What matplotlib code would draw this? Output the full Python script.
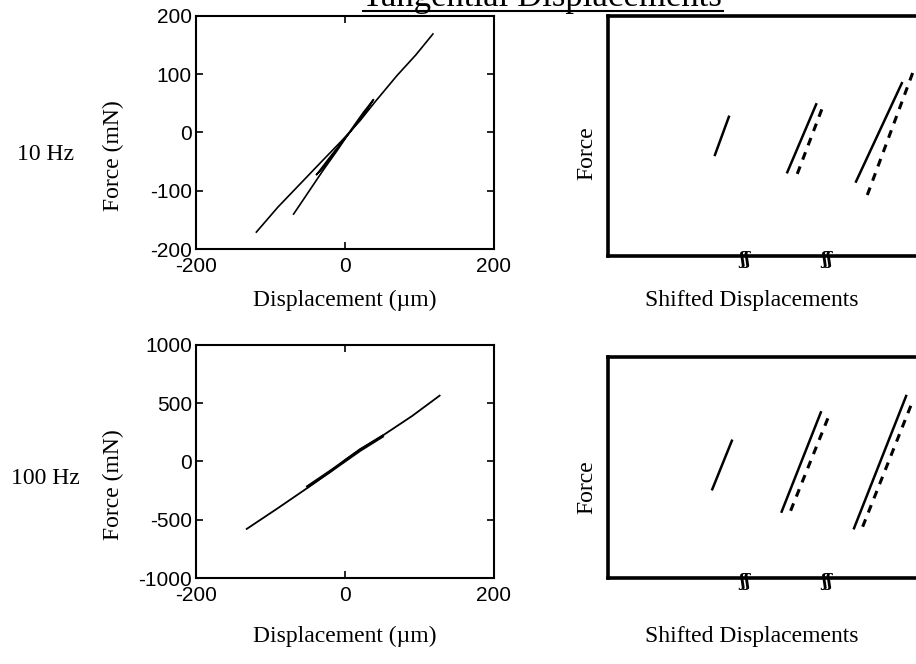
import matplotlib.pyplot as plt

plt.rcParams['axes.unicode_minus'] = False

# 10 Hz, force vs displacement (um, mN)
big10_x = [-119, -90, -60, -30, -5, 20, 40, 70, 95, 118]
big10_y = [-171, -128, -88, -48, -15, 20, 52, 98, 133, 169]
mid10_x = [-69, -50, -30, -10, 10, 25, 38]
mid10_y = [-140, -104, -66, -30, 8, 35, 56]
loop10_x = [-38, -20, 0, 20, 38, 25, 5, -15, -30, -38]
loop10_y = [-72, -42, -10, 22, 56, 30, -2, -36, -62, -72]

# 100 Hz
big100_x = [-132, -90, -50, -20, 0, 20, 50, 90, 127]
big100_y = [-579, -400, -225, -90, 13, 105, 220, 390, 565]
small100_x = [-50, -20, 0, 20, 50]
small100_y = [-215, -85, 5, 95, 215]

# shifted displacement panels (arbitrary units, 0-100)
top_solid = [([32.2, 36.4], [42.1, 58.0]),
             ([54.0, 62.7], [34.9, 63.2]),
             ([74.7, 88.5], [31.0, 72.0])]
top_dash = [([57.0, 64.5], [34.2, 61.5]),
            ([78.1, 91.8], [25.4, 76.4])]
bot_solid = [([31.4, 37.3], [40.2, 62.1]),
             ([52.3, 64.1], [30.1, 74.9]),
             ([74.1, 89.8], [22.6, 82.3])]
bot_dash = [([55.0, 66.4], [30.5, 72.9]),
            ([76.7, 91.5], [23.3, 79.0])]
breaks = [41.3, 66.0]

serif = 'Liberation Serif'
sans = 'Liberation Sans'
lab_fs = 17

fig = plt.figure(figsize=(9.16, 6.64), dpi=100)


def left_panel(rect, ylim, yticks):
    ax = fig.add_axes(rect)
    ax.set_xlim(-200, 200)
    ax.set_ylim(*ylim)
    ax.set_xticks([-200, 0, 200])
    ax.set_yticks(yticks)
    ax.tick_params(direction='in', length=5, width=1.2, top=True, right=True,
                   labelsize=15)
    ax.tick_params(axis='x', pad=6)
    ax.tick_params(axis='y', pad=3)
    for lab in ax.get_xticklabels() + ax.get_yticklabels():
        lab.set_family(sans)
    for s in ax.spines.values():
        s.set_linewidth(1.5)
    ax.set_ylabel('Force (mN)', family=serif, fontsize=lab_fs)
    ax.yaxis.set_label_coords(-0.24, 0.40)
    ax.set_xlabel('Displacement (\u00b5m)', family=serif, fontsize=lab_fs)
    return ax


def right_panel(rect, solids, dashes):
    ax = fig.add_axes(rect)
    ax.set_xlim(0, 100)
    ax.set_ylim(0, 100)
    ax.set_xticks([])
    ax.set_yticks([])
    for s in ax.spines.values():
        s.set_linewidth(2.6)
    for xs, ys in solids:
        ax.plot(xs, ys, color='black', lw=1.8)
    for xs, ys in dashes:
        ax.plot(xs, ys, color='black', lw=2.2, dashes=(2.6, 2.4))
    for b in breaks:
        ax.text(b, -0.015, '\u0283\u0283', transform=ax.get_xaxis_transform(),
                ha='center', va='center', fontsize=12, fontweight='bold',
                family='DejaVu Serif', clip_on=False)
    ax.set_ylabel('Force', family=serif, fontsize=lab_fs)
    ax.set_xlabel('Shifted Displacements', family=serif, fontsize=lab_fs)
    return ax


ax1 = left_panel([0.214, 0.625, 0.3253, 0.351], (-200, 200), [-200, -100, 0, 100, 200])
ax1.plot(big10_x, big10_y, color='black', lw=1.2)
ax1.plot(mid10_x, mid10_y, color='black', lw=1.2)
ax1.plot(loop10_x, loop10_y, color='black', lw=1.2)
ax1.xaxis.set_label_coords(0.5, -0.176)

ax3 = left_panel([0.214, 0.1295, 0.3253, 0.351], (-1000, 1000), [-1000, -500, 0, 500, 1000])
ax3.plot(big100_x, big100_y, color='black', lw=1.3)
ax3.plot(small100_x, small100_y, color='black', lw=2.2)
ax3.xaxis.set_label_coords(0.5, -0.206)

ax2 = right_panel([0.6638, 0.6145, 0.3624, 0.3614], top_solid, top_dash)
ax2.yaxis.set_label_coords(-0.033, 0.43)
ax2.xaxis.set_label_coords(0.434, -0.142)

ax4 = right_panel([0.6638, 0.129, 0.3624, 0.3337], bot_solid, bot_dash)
ax4.yaxis.set_label_coords(-0.033, 0.41)
ax4.xaxis.set_label_coords(0.434, -0.217)

fig.text(0.050, 0.767, '10 Hz', family=serif, fontsize=lab_fs, ha='center', va='center')
fig.text(0.050, 0.280, '100 Hz', family=serif, fontsize=lab_fs, ha='center', va='center')

fig.text(0.592, 0.991, 'Tangential Displacements', family=serif, fontsize=25,
         ha='center', va='baseline')
fig.add_artist(plt.Line2D([363 / 916, 723 / 916], [0.9834, 0.9834],
                          transform=fig.transFigure, color='black', lw=1.5))

fig.savefig('out.png', dpi=100)
